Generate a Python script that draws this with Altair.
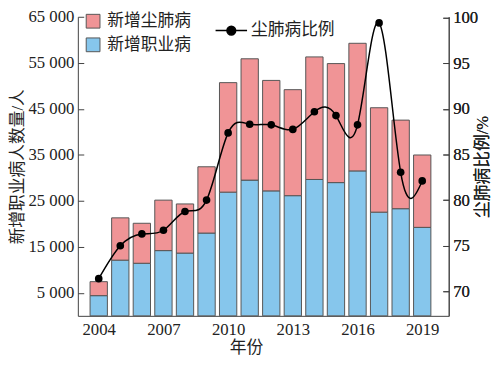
import altair as alt
import pandas as pd

years = list(range(2004, 2020))
occupational = [4390, 12110, 11430, 14180, 13640, 17990, 26890, 29500,
                27160, 26120, 29640, 28960, 31500, 22540, 23290, 19230]
pneumoconiosis = [3040, 9190, 8690, 10970, 10680, 14410, 23800, 26370,
                  24010, 23040, 26640, 25870, 27740, 22690, 19250, 15730]
ratio = [71.4, 75.0, 76.3, 76.7, 78.75, 80.0, 87.36, 88.3,
         88.24, 87.74, 89.67, 89.25, 88.24, 99.4, 83.05, 82.1]

series_names = ["新增尘肺病", "新增职业病"]
colors = ["#F09496", "#86C6EC"]
line_name = "尘肺病比例"

rows = []
for y, occ, pn in zip(years, occupational, pneumoconiosis):
    rows.append({"year": y, "series": "新增职业病", "value": occ, "ord": 0})
    rows.append({"year": y, "series": "新增尘肺病", "value": pn, "ord": 1})
bars_df = pd.DataFrame(rows)
line_df = pd.DataFrame({"year": years, "ratio": ratio, "name": line_name})

FONT = "Liberation Serif, Noto Sans CJK SC"
AX = "#404040"

x_scale = alt.Scale(domain=[2003.26, 2020], nice=False, zero=False)
x_axis = alt.Axis(values=[2004, 2007, 2010, 2013, 2016, 2019], format="d",
                  title="年份", ticks=False, tickSize=0, labelPadding=6,
                  titleX=171, titlePadding=2, grid=False)

bars = alt.Chart(bars_df).mark_bar(size=17.6, stroke="#555555", strokeWidth=1).encode(
    x=alt.X("year:Q", scale=x_scale, axis=x_axis),
    y=alt.Y("value:Q", stack="zero",
            scale=alt.Scale(domain=[0, 65000], nice=False),
            axis=alt.Axis(orient="left", values=[5000, 15000, 25000, 35000, 45000, 55000, 65000],
                          labelExpr="replace(format(datum.value, ','), ',', ' ')",
                          title="新增职业病人数量/人", ticks=False, tickSize=0,
                          labelPadding=4, titleX=-61, titleAngle=270,
                          titleAlign="center", titleBaseline="middle",
                          grid=True, gridDash=[6, 2000], gridColor=AX, gridWidth=1)),
    fill=alt.Fill("series:N", scale=alt.Scale(domain=series_names, range=colors),
                  legend=alt.Legend(title=None, orient="none", legendX=7, legendY=-4,
                                    symbolType="square", symbolSize=196,
                                    symbolStrokeColor="#555555", symbolStrokeWidth=1,
                                    labelOffset=6, rowPadding=5, labelFontSize=17,
                                    labelFont=FONT, labelColor="#222222")),
    order=alt.Order("ord:Q"),
)

right_axis = alt.Axis(orient="right", values=[70, 75, 80, 85, 90, 95, 100],
                      title="尘肺病比例/%", ticks=False, tickSize=0, labelPadding=4,
                      titleAngle=270, titleX=34, titleAlign="center", titleBaseline="middle",
                      grid=True, gridDash=[6, 2000], gridColor=AX, gridWidth=1)
y_right = alt.Y("ratio:Q", scale=alt.Scale(domain=[67.33, 100.07], nice=False, zero=False),
                axis=right_axis)

line = alt.Chart(line_df).mark_line(interpolate="natural", strokeWidth=1.5).encode(
    x=alt.X("year:Q", scale=x_scale, axis=x_axis),
    y=y_right,
    stroke=alt.Stroke("name:N", scale=alt.Scale(domain=[line_name], range=["#000000"]),
                      legend=alt.Legend(title=None, orient="none", legendX=139, legendY=-3,
                                        symbolType="M-1,0H1M-0.28,0A0.28,0.28,0,1,1,0.28,0A0.28,0.28,0,1,1,-0.28,0Z",
                                        symbolSize=1024, symbolStrokeWidth=1.5,
                                        symbolFillColor="#000000", labelOffset=3,
                                        labelFontSize=17, labelFont=FONT,
                                        labelColor="#222222")),
)

points = alt.Chart(line_df).mark_point(filled=True, size=60, color="#000000", opacity=1).encode(
    x=alt.X("year:Q", scale=x_scale, axis=x_axis),
    y=y_right,
)

chart = alt.layer(bars, line, points).resolve_scale(
    y="independent", fill="independent", stroke="independent"
).properties(
    width=377, height=304,
    autosize=alt.AutoSizeParams(type="none"),
    padding={"left": 71, "top": 6, "right": 44, "bottom": 45},
).configure_view(stroke=None).configure_axis(
    labelFont=FONT, titleFont=FONT, labelFontSize=17, titleFontSize=17,
    labelColor="#222222", titleColor="#222222", titleFontWeight="normal",
    domainColor=AX, domainWidth=1,
)

chart.save("out.html", embed_options={"renderer": "svg", "actions": False})
